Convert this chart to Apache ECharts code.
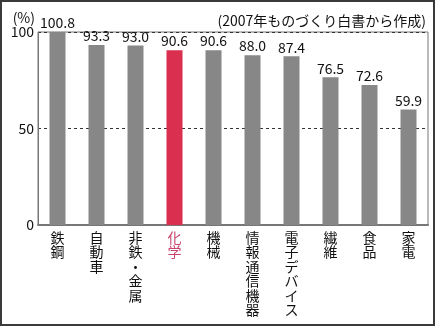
<!DOCTYPE html>
<html>
<head>
<meta charset="utf-8">
<script src="https://cdn.jsdelivr.net/npm/echarts@6/dist/echarts.min.js"></script>
<style>
html,body{margin:0;padding:0;background:#fff;}
#c{width:435px;height:326px;box-sizing:border-box;}
#frame{position:absolute;left:0;top:0;width:435px;height:326px;box-sizing:border-box;border:2px solid #3a3a3a;pointer-events:none;}
</style>
</head>
<body>
<div id="c"></div>
<div id="frame"></div>
<script>
const categories = ['鉄鋼', '自動車', '非鉄・金属', '化学', '機械', '情報通信機器', '電子デバイス', '繊維', '食品', '家電'];
const values = [100.8, 93.3, 93.0, 90.6, 90.6, 88.0, 87.4, 76.5, 72.6, 59.9];
const highlightCategory = '化学';
const yTicks = [0, 50, 100];
const titleText = '(2007年ものづくり白書から作成)';
const unitText = '(%)';

const FONT = '"Noto Sans CJK JP", sans-serif';
const GREY = '#878787';
const RED = '#da2f4f';

const chart = echarts.init(document.getElementById('c'), null, {renderer: 'canvas'});
chart.setOption({
  animation: false,
  backgroundColor: '#fff',
  textStyle: {fontFamily: FONT},
  graphic: [{
    type: 'text', right: 9, top: 14,
    style: {text: titleText, font: '14px ' + FONT, fill: '#111'}
  }],
  grid: {left: 38, right: 7, top: 32, bottom: 101, show: true, borderColor: '#777', borderWidth: 1},
  xAxis: {
    type: 'category',
    data: categories,
    axisLine: {show: true, lineStyle: {color: '#777', width: 2}},
    axisTick: {show: false},
    axisLabel: {
      interval: 0, margin: 5, fontSize: 14, lineHeight: 14.5, color: '#111', fontFamily: FONT,
      formatter: (v) => {
        const t = v.split('').join('\n');
        return v === highlightCategory ? '{h|' + t + '}' : t;
      },
      rich: {h: {color: '#c7466f', fontSize: 14, lineHeight: 14.5, fontFamily: FONT}}
    }
  },
  yAxis: {
    type: 'value', min: yTicks[0], max: yTicks[yTicks.length - 1], interval: 50,
    name: unitText, nameLocation: 'end', nameGap: 4,
    nameTextStyle: {fontSize: 14, color: '#111', align: 'right', padding: [0, 3, 0, 0], fontFamily: FONT},
    axisLine: {show: true, lineStyle: {color: '#777', width: 1}},
    axisTick: {show: false},
    axisLabel: {fontSize: 14, color: '#111', margin: 4, fontFamily: FONT},
    splitLine: {show: true, lineStyle: {color: '#333', type: [3, 3], width: 1}}
  },
  series: [{
    type: 'bar',
    barWidth: 16,
    data: values.map((v, i) => ({
      value: v,
      itemStyle: {color: categories[i] === highlightCategory ? RED : GREY}
    })),
    label: {
      show: true, position: 'top', distance: 2, fontSize: 14, color: '#111', fontFamily: FONT,
      formatter: (p) => p.value.toFixed(1)
    }
  }]
});
// hide split lines at 0 and 100 via visual: frame covers them
</script>
</body>
</html>
